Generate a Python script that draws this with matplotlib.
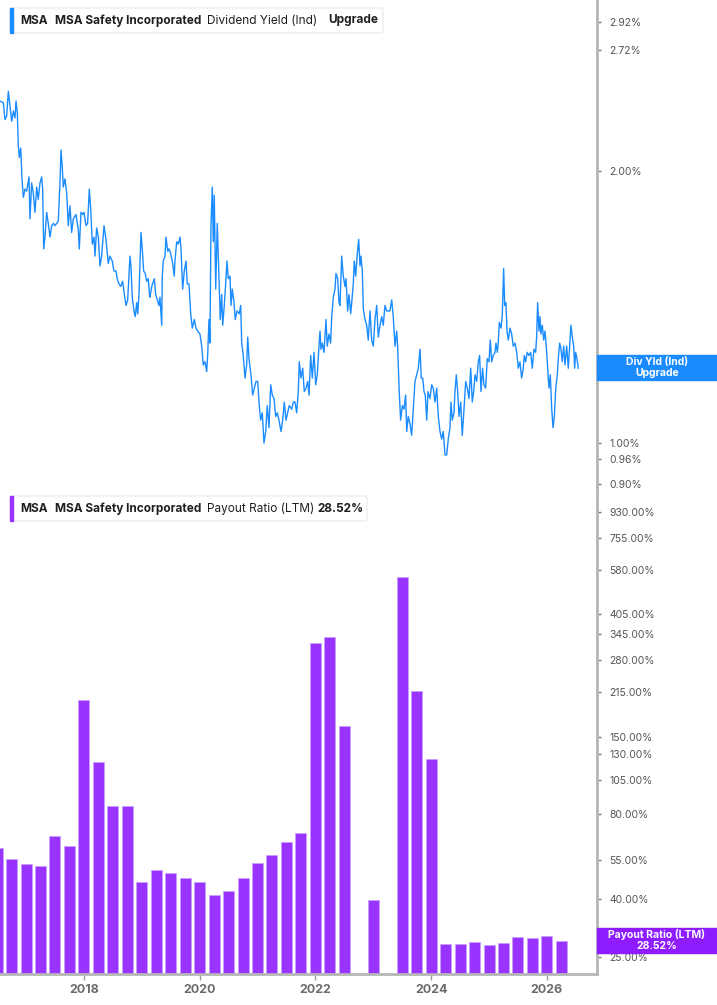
import numpy as np
import pandas as pd
import matplotlib
matplotlib.use("Agg")
import matplotlib.pyplot as plt
from matplotlib.patches import Rectangle, FancyBboxPatch
from matplotlib.ticker import NullLocator

plt.rcParams['font.family'] = ['Inter', 'DejaVu Sans']

# Dividend yield (Ind), %, decimal years
yield_years = [
    2016.549, 2016.606, 2016.635, 2016.664, 2016.693, 2016.722, 2016.751, 2016.780, 2016.808, 2016.826,
    2016.848, 2016.866, 2016.883, 2016.907, 2016.929, 2016.952, 2016.981, 2017.010, 2017.050, 2017.067,
    2017.096, 2017.124, 2017.153, 2017.183, 2017.210, 2017.240, 2017.269, 2017.286, 2017.304, 2017.326,
    2017.355, 2017.383, 2017.413, 2017.442, 2017.470, 2017.499, 2017.528, 2017.556, 2017.585, 2017.603,
    2017.625, 2017.642, 2017.672, 2017.701, 2017.729, 2017.758, 2017.787, 2017.815, 2017.862, 2017.902,
    2017.919, 2017.948, 2017.978, 2018.000, 2018.035, 2018.063, 2018.092, 2018.115, 2018.144, 2018.173,
    2018.190, 2018.219, 2018.248, 2018.276, 2018.305, 2018.346, 2018.380, 2018.420, 2018.449, 2018.489,
    2018.518, 2018.553, 2018.575, 2018.605, 2018.634, 2018.669, 2018.691, 2018.726, 2018.755, 2018.795,
    2018.812, 2018.834, 2018.864, 2018.886, 2018.911, 2018.928, 2018.950, 2018.985, 2019.007, 2019.031,
    2019.059, 2019.083, 2019.111, 2019.135,
    2019.140, 2019.170, 2019.215, 2019.239, 2019.267, 2019.296, 2019.313, 2019.343, 2019.353, 2019.370,
    2019.400, 2019.417, 2019.446, 2019.469, 2019.498, 2019.526, 2019.560, 2019.572, 2019.602, 2019.629,
    2019.659, 2019.676, 2019.705, 2019.733, 2019.762, 2019.785, 2019.814, 2019.844, 2019.871, 2019.906,
    2019.935, 2019.965, 2020.004, 2020.034, 2020.061, 2020.091, 2020.120, 2020.137, 2020.160, 2020.177,
    2020.194, 2020.217, 2020.234, 2020.251, 2020.276, 2020.303, 2020.333, 2020.355, 2020.379, 2020.397,
    2020.424, 2020.448, 2020.471, 2020.493, 2020.523, 2020.540, 2020.562, 2020.592, 2020.614, 2020.644,
    2020.683, 2020.708, 2020.725, 2020.752, 2020.782, 2020.811, 2020.829, 2020.851, 2020.885, 2020.915,
    2020.943, 2020.972, 2021.001, 2021.029, 2021.053, 2021.081, 2021.110, 2021.140, 2021.167, 2021.197,
    2021.226, 2021.254, 2021.283, 2021.313, 2021.340, 2021.369, 2021.404, 2021.433, 2021.461, 2021.490,
    2021.519, 2021.547, 2021.589, 2021.616,
    2021.646, 2021.675, 2021.703, 2021.720, 2021.749, 2021.779, 2021.806, 2021.836, 2021.865, 2021.888,
    2021.917, 2021.945, 2021.974, 2022.004, 2022.031, 2022.060, 2022.078, 2022.095, 2022.118, 2022.147,
    2022.164, 2022.181, 2022.204, 2022.233, 2022.262, 2022.280, 2022.308, 2022.337, 2022.354, 2022.384,
    2022.406, 2022.423, 2022.453, 2022.480, 2022.510, 2022.527, 2022.556, 2022.579, 2022.608, 2022.626,
    2022.653, 2022.670, 2022.695, 2022.722, 2022.747, 2022.769, 2022.786, 2022.809, 2022.826, 2022.855,
    2022.885, 2022.912, 2022.942, 2022.971, 2022.999, 2023.028, 2023.058, 2023.085, 2023.115, 2023.144,
    2023.171, 2023.201, 2023.230, 2023.258, 2023.287, 2023.317, 2023.344, 2023.374, 2023.403, 2023.419,
    2023.447, 2023.471, 2023.500, 2023.529, 2023.558, 2023.576, 2023.603, 2023.633, 2023.662, 2023.690,
    2023.719, 2023.749, 2023.776, 2023.806, 2023.828, 2023.852, 2023.875, 2023.897, 2023.922, 2023.944,
    2023.978, 2024.008, 2024.035, 2024.065, 2024.094, 2024.122,
    2024.151, 2024.181, 2024.208, 2024.238, 2024.267, 2024.294, 2024.324, 2024.341, 2024.364, 2024.393,
    2024.410, 2024.433, 2024.457, 2024.480, 2024.509, 2024.536, 2024.566, 2024.595, 2024.623, 2024.652,
    2024.682, 2024.709, 2024.733, 2024.756, 2024.785, 2024.813, 2024.836, 2024.860, 2024.887, 2024.911,
    2024.940, 2024.968, 2024.998, 2025.020, 2025.045, 2025.072, 2025.102, 2025.119, 2025.141, 2025.158,
    2025.176, 2025.205, 2025.227, 2025.251, 2025.269, 2025.291, 2025.309, 2025.331, 2025.361, 2025.390,
    2025.417, 2025.447, 2025.476, 2025.504, 2025.533, 2025.562, 2025.590, 2025.607, 2025.631, 2025.659,
    2025.689, 2025.718, 2025.746, 2025.775, 2025.804, 2025.821, 2025.838, 2025.862, 2025.879, 2025.896,
    2025.919, 2025.943, 2025.965, 2025.995, 2026.022, 2026.035, 2026.057, 2026.082, 2026.104, 2026.127,
    2026.151, 2026.178, 2026.195, 2026.219, 2026.242, 2026.264, 2026.288, 2026.311, 2026.340, 2026.368,
    2026.397, 2026.414, 2026.437, 2026.461, 2026.478, 2026.495, 2026.518, 2026.540,
]
yield_pct = [
    2.39, 2.38, 2.28, 2.30, 2.45, 2.36, 2.27, 2.33, 2.29, 2.39,
    2.32, 2.13, 2.07, 2.12, 1.96, 1.87, 1.91, 1.90, 1.97, 1.77,
    1.94, 1.89, 1.80, 1.92, 1.86, 1.94, 1.97, 1.91, 1.64, 1.69,
    1.80, 1.75, 1.69, 1.74, 1.75, 1.74, 1.75, 1.76, 1.94, 2.11,
    2.02, 1.92, 1.96, 1.89, 1.74, 1.83, 1.71, 1.77, 1.79, 1.72,
    1.64, 1.80, 1.79, 1.80, 1.74, 1.75, 1.91, 1.82, 1.66, 1.69,
    1.61, 1.73, 1.69, 1.57, 1.61, 1.74, 1.68, 1.58, 1.61, 1.59,
    1.55, 1.55, 1.52, 1.50, 1.49, 1.51, 1.47, 1.42, 1.44, 1.61,
    1.57, 1.45, 1.40, 1.38, 1.43, 1.39, 1.46, 1.71, 1.64, 1.55,
    1.54, 1.51, 1.52, 1.45,
    1.45, 1.49, 1.52, 1.46, 1.44, 1.42, 1.45, 1.35, 1.53, 1.59,
    1.61, 1.69, 1.63, 1.64, 1.62, 1.59, 1.53, 1.59, 1.67, 1.66,
    1.69, 1.64, 1.48, 1.55, 1.59, 1.50, 1.50, 1.39, 1.34, 1.37,
    1.34, 1.33, 1.32, 1.28, 1.22, 1.23, 1.20, 1.25, 1.37, 1.29,
    1.74, 1.92, 1.67, 1.88, 1.48, 1.75, 1.52, 1.37, 1.46, 1.35,
    1.42, 1.50, 1.59, 1.52, 1.53, 1.42, 1.48, 1.43, 1.37, 1.40,
    1.39, 1.42, 1.29, 1.25, 1.18, 1.22, 1.31, 1.24, 1.19, 1.13,
    1.15, 1.17, 1.17, 1.10, 1.06, 1.08, 1.00, 1.03, 1.10, 1.04,
    1.16, 1.13, 1.12, 1.07, 1.08, 1.06, 1.03, 1.06, 1.11, 1.06,
    1.08, 1.10, 1.09, 1.11,
    1.11, 1.08, 1.14, 1.23, 1.18, 1.21, 1.14, 1.15, 1.17, 1.13,
    1.25, 1.18, 1.26, 1.16, 1.19, 1.28, 1.33, 1.27, 1.29, 1.26,
    1.31, 1.37, 1.28, 1.32, 1.29, 1.38, 1.45, 1.48, 1.54, 1.52,
    1.43, 1.42, 1.61, 1.53, 1.49, 1.52, 1.40, 1.46, 1.39, 1.43,
    1.50, 1.59, 1.53, 1.62, 1.68, 1.57, 1.61, 1.55, 1.41, 1.37,
    1.35, 1.30, 1.40, 1.30, 1.28, 1.37, 1.42, 1.31, 1.35, 1.38,
    1.35, 1.42, 1.40, 1.40, 1.40, 1.44, 1.38, 1.28, 1.33, 1.28,
    1.14, 1.06, 1.10, 1.09, 1.13, 1.03, 1.07, 1.05, 1.02, 1.09,
    1.17, 1.19, 1.21, 1.27, 1.18, 1.18, 1.14, 1.13, 1.06, 1.14,
    1.12, 1.16, 1.15, 1.11, 1.15, 1.07,
    1.03, 1.01, 1.03, 0.97, 0.97, 1.01, 1.04, 1.11, 1.06, 1.08,
    1.14, 1.19, 1.14, 1.07, 1.11, 1.02, 1.09, 1.17, 1.15, 1.12,
    1.21, 1.11, 1.14, 1.19, 1.17, 1.23, 1.25, 1.14, 1.21, 1.16,
    1.15, 1.24, 1.23, 1.30, 1.23, 1.25, 1.26, 1.29, 1.26, 1.29,
    1.36, 1.34, 1.38, 1.56, 1.42, 1.43, 1.33, 1.30, 1.34, 1.32,
    1.28, 1.29, 1.26, 1.21, 1.23, 1.18, 1.21, 1.25, 1.23, 1.26,
    1.25, 1.26, 1.21, 1.27, 1.26, 1.31, 1.43, 1.33, 1.38, 1.32,
    1.35, 1.30, 1.33, 1.26, 1.18, 1.15, 1.19, 1.09, 1.04, 1.07,
    1.15, 1.19, 1.24, 1.29, 1.27, 1.23, 1.28, 1.22, 1.28, 1.21,
    1.30, 1.35, 1.31, 1.28, 1.21, 1.26, 1.24, 1.21,
]

# Payout ratio (LTM), %, quarterly
payout_quarters = [
    "2016-06-30", "2016-09-30", "2016-12-31", "2017-03-31", "2017-06-30", "2017-09-30", "2017-12-31",
    "2018-03-31", "2018-06-30", "2018-09-30", "2018-12-31", "2019-03-31", "2019-06-30", "2019-09-30",
    "2019-12-31", "2020-03-31", "2020-06-30", "2020-09-30", "2020-12-31", "2021-03-31", "2021-06-30",
    "2021-09-30", "2021-12-31", "2022-03-31", "2022-06-30", "2022-09-30", "2022-12-31", "2023-03-31",
    "2023-06-30", "2023-09-30", "2023-12-31", "2024-03-31", "2024-06-30", "2024-09-30", "2024-12-31",
    "2025-03-31", "2025-06-30", "2025-09-30", "2025-12-31", "2026-03-31",
]
payout_pct = [
    60.5, 55.3, 53.4, 52.5, 66.7, 61.5, 202.0, 122.0, 85.3, 85.3,
    46.0, 50.8, 49.4, 47.4, 46.0, 41.5, 42.7, 47.5, 53.5, 57.4,
    63.7, 68.7, 321.0, 338.0, 163.0, np.nan, 39.7, np.nan, 548.0, 217.0,
    125.0, 27.7, 27.7, 28.2, 27.6, 27.9, 29.3, 29.1, 29.6, 28.52,
]

yield_ticks = [2.92, 2.72, 2.00, 1.00, 0.96, 0.90]
payout_ticks = [930, 755, 580, 405, 345, 280, 215, 150, 130, 105, 80, 55, 40, 25]
year_ticks = [2018, 2020, 2022, 2024, 2026]

BLUE = '#1b8cff'
PURPLE = '#9933ff'
W, H = 717, 1005


def to_year(s):
    d = pd.Timestamp(s)
    n = 366 if d.is_leap_year else 365
    return d.year + d.dayofyear / n


def fx(px):
    return px / W


def fy(py):
    return 1 - py / H


fig = plt.figure(figsize=(W / 100, H / 100), dpi=100)
ax1 = fig.add_axes([0, fy(487), fx(597), 487 / H])
ax2 = fig.add_axes([0, fy(974), fx(597), 487 / H])

xlim = (2016.549, 2026.864)

# top panel: dividend yield
ax1.plot(yield_years, yield_pct, color=BLUE, lw=1.0)
ax1.set_yscale('log')
ax1.set_ylim(0.894, 3.092)
ax1.set_xlim(*xlim)
ax1.set_xticks([])

# bottom panel: payout ratio bars
bar_x = [to_year(q) for q in payout_quarters]
ax2.bar(bar_x, np.array(payout_pct) - 1, bottom=1, width=0.19,
        color=PURPLE, edgecolor='#c99dff', linewidth=0.6)
ax2.set_yscale('log')
ax2.set_ylim(21.77, 1140)
ax2.set_xlim(*xlim)
ax2.set_xticks(year_ticks)
ax2.set_xticklabels([str(y) for y in year_ticks], fontweight='bold')
ax2.tick_params(axis='x', length=4, width=1, color='#999999', labelcolor='#6b6b6b',
                labelsize=9, pad=3)

for ax, ticks, fmt in [(ax1, yield_ticks, '{:.2f}%'), (ax2, payout_ticks, '{:.2f}%')]:
    ax.yaxis.tick_right()
    ax.set_yticks(ticks)
    ax.set_yticklabels([fmt.format(t) for t in ticks])
    ax.yaxis.set_minor_locator(NullLocator())
    ax.tick_params(axis='y', length=3, width=1, color='#777777', labelcolor='#555555',
                   labelsize=7.5, pad=6)
    for s in ['top', 'left', 'bottom']:
        ax.spines[s].set_visible(False)
    ax.spines['right'].set_color('#b5b5b5')
    ax.spines['right'].set_linewidth(2)
    ax.set_facecolor('none')

ax2.spines['bottom'].set_visible(True)
ax2.spines['bottom'].set_color('#b5b5b5')
ax2.spines['bottom'].set_linewidth(2)

# legend boxes at top-left of each pane
legends = [
    (8, 33, 373, BLUE, [('MSA', 20.7, 'bold'), ('MSA Safety Incorporated', 55, 'bold'),
                        ('Dividend Yield (Ind)', 207, 'normal'), ('Upgrade', 328, 'bold')]),
    (496, 521, 357, PURPLE, [('MSA', 20.7, 'bold'), ('MSA Safety Incorporated', 55, 'bold'),
                             ('Payout Ratio (LTM)', 207, 'normal'), ('28.52%', 317, 'bold')]),
]
for top, bot, width, col, items in legends:
    fig.patches.append(FancyBboxPatch((fx(10), fy(bot)), fx(width), (bot - top) / H,
                                      boxstyle='round,pad=0,rounding_size=0.003',
                                      fc='white', ec='#e8e8e8', lw=0.8,
                                      transform=fig.transFigure, figure=fig))
    fig.patches.append(Rectangle((fx(10), fy(bot)), fx(3), (bot - top) / H, color=col,
                                 transform=fig.transFigure, figure=fig))
    yc = fy((top + bot) / 2)
    for txt, xp, wt in items:
        fig.text(fx(xp), yc, txt, fontsize=8.5, fontweight=wt, color='#1f1f1f',
                 ha='left', va='center')

# last-value labels on the right axis
tags = [
    (355, 380, BLUE, 'Div Yld (Ind)', 'Upgrade'),
    (928, 953, '#8f1cff', 'Payout Ratio (LTM)', '28.52%'),
]
for top, bot, col, l1, l2 in tags:
    fig.patches.append(Rectangle((fx(597), fy(bot)), fx(120), (bot - top) / H, color=col,
                                 transform=fig.transFigure, figure=fig))
    fig.text(fx(657), fy(top + 6.5), l1, fontsize=7.5, fontweight='bold', color='white',
             ha='center', va='center')
    fig.text(fx(657), fy(top + 18), l2, fontsize=7.5, fontweight='bold', color='white',
             ha='center', va='center')

fig.savefig('out.png', dpi=100, facecolor='white')
